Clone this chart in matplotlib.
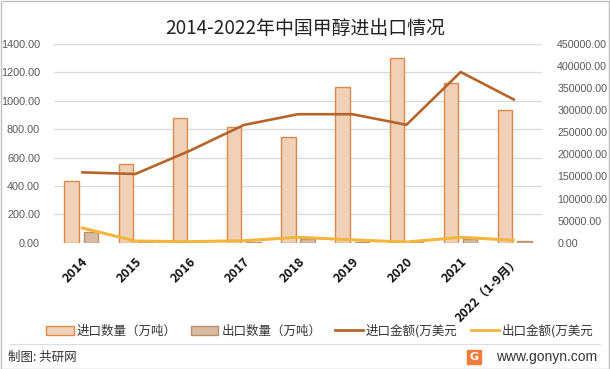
import matplotlib
matplotlib.use("Agg")
import matplotlib.pyplot as plt
from matplotlib.patches import Rectangle, Patch
from matplotlib.lines import Line2D
import numpy as np

plt.rcParams['font.family'] = ['Noto Sans CJK SC', 'DejaVu Sans']

categories = ['2014', '2015', '2016', '2017', '2018', '2019', '2020', '2021', '2022（1-9月）']
import_qty = [435, 556, 882, 818, 747, 1095, 1301, 1123, 932]        # 万吨
export_qty = [76, 6, 4, 5, 26, 7, 6, 26, 10]                          # 万吨
import_val = [159400, 155600, 208000, 266500, 291000, 291000, 267000, 386600, 323000]  # 万美元
export_val = [34000, 3800, 2300, 4500, 12200, 6500, 1500, 12200, 5400]                # 万美元

left_ticks = [0, 200, 400, 600, 800, 1000, 1200, 1400]
right_ticks = [0, 50000, 100000, 150000, 200000, 250000, 300000, 350000, 400000, 450000]

W, H = 610, 369
fig = plt.figure(figsize=(W / 100, H / 100), dpi=100)
ax = fig.add_axes([54 / W, 1 - 242.7 / H, (542 - 54) / W, (242.7 - 44) / H])
ax2 = ax.twinx()

x = np.arange(len(categories))
bw = 0.264
off = 0.178
c_imp_fill, c_imp_edge = '#F0D1B8', '#D98A4A'
c_exp_fill, c_exp_edge = '#D8BBA2', '#B8906E'
c_imp_line = '#B5652A'
c_exp_line = '#F5B43C'

ax.bar(x - off, import_qty, bw, color=c_imp_fill, edgecolor=c_imp_edge, linewidth=1.0, zorder=2)
ax.bar(x + off, export_qty, bw, color=c_exp_fill, edgecolor=c_exp_edge, linewidth=1.0, zorder=2)
ax2.plot(x, import_val, color=c_imp_line, lw=1.9, solid_capstyle='butt', zorder=3)
ax2.plot(x, export_val, color=c_exp_line, lw=2.2, solid_capstyle='butt', zorder=3)

ax.set_xlim(-0.5, len(categories) - 0.5)
ax.set_ylim(0, 1400)
ax2.set_ylim(0, 450000)
ax.set_yticks(left_ticks)
ax.set_yticklabels([f'{v:.2f}' for v in left_ticks], family='Liberation Sans', fontsize=7.8, color='#595959')
ax2.set_yticks(right_ticks)
ax2.set_yticklabels([f'{v:.2f}' for v in right_ticks], family='Liberation Sans', fontsize=7.7, color='#595959')
ax.grid(axis='y', color='#D9D9D9', lw=0.9, zorder=0)
ax.set_axisbelow(True)
for a in (ax, ax2):
    for s in a.spines.values():
        s.set_visible(False)
    a.tick_params(length=0)
ax.tick_params(axis='y', pad=10)
ax2.tick_params(axis='y', pad=11)
ax.set_xticks(x)
ax.set_xticklabels(categories, rotation=45, ha='right', va='top', rotation_mode='anchor',
                   fontsize=9, fontweight='bold', color='#111111')
ax.tick_params(axis='x', pad=9)

fig.text(305 / W, 1 - 29 / H, '2014-2022年中国甲醇进出口情况', ha='center', va='center',
         fontsize=13.6, color='#222222')

handles = [Patch(facecolor=c_imp_fill, edgecolor=c_imp_edge, lw=1.0),
           Patch(facecolor=c_exp_fill, edgecolor=c_exp_edge, lw=1.0),
           Line2D([], [], color=c_imp_line, lw=2),
           Line2D([], [], color=c_exp_line, lw=2)]
labels = ['进口数量（万吨）', '出口数量（万吨）', '进口金额(万美元', '出口金额(万美元']
fig.legend(handles, labels, loc='center', bbox_to_anchor=(320 / W, 1 - 331 / H), ncol=4,
           frameon=False, fontsize=9, handlelength=2.2, handleheight=0.7, handletextpad=0.25,
           columnspacing=1.1, labelcolor='#333333')

fig.add_artist(Line2D([10 / W, 600 / W], [1 - 344 / H, 1 - 344 / H], color='#DDDDDD', lw=0.8))
fig.text(8 / W, 1 - 357 / H, '制图: 共研网', ha='left', va='center', fontsize=9, color='#333333')
fig.text(597 / W, 1 - 357 / H, 'www.gonyn.com', ha='right', va='center', fontsize=10,
         family='Liberation Sans', color='#333333')
fig.add_artist(Rectangle((467 / W, 1 - 364 / H), 14 / W, 14 / H, color='#F07B3A', transform=fig.transFigure))
fig.text(474 / W, 1 - 357 / H, 'G', ha='center', va='center', fontsize=8, fontweight='bold', color='white',
         family='DejaVu Sans')

fig.add_artist(Rectangle((0.5 / W, 0.5 / H), (W - 1.5) / W, (H - 1.5) / H, fill=False,
                         edgecolor='#BFBFBF', lw=1, transform=fig.transFigure))

fig.savefig('out.png', dpi=100)
